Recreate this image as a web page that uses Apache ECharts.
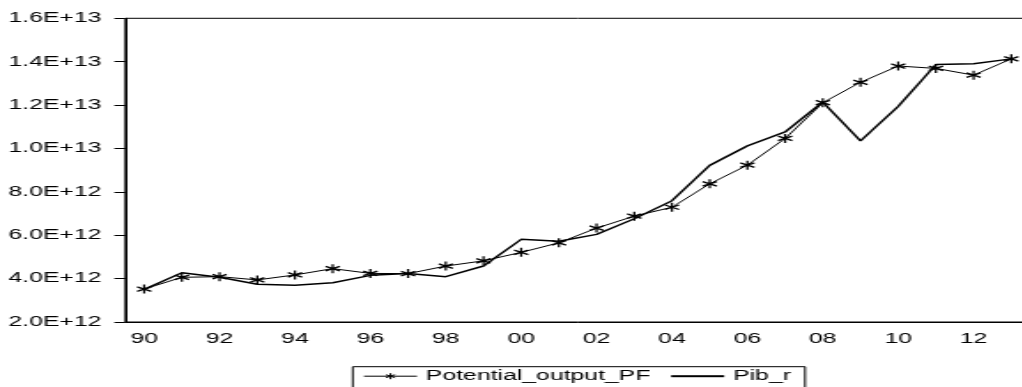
<!DOCTYPE html>
<html>
<head>
<meta charset="utf-8">
<script src="https://cdn.jsdelivr.net/npm/echarts@6/dist/echarts.min.js"></script>
<style>
  html, body { margin: 0; padding: 0; overflow: hidden; background: #fff; }
  /* the reference is a horizontally stretched EViews graph */
  #chart { width: 600px; height: 387px; transform: scaleX(1.77); transform-origin: 0 0; }
</style>
</head>
<body>
<div id="chart"></div>
<script>
// years 1990..2013, labelled as two digits
var years = ['90','91','92','93','94','95','96','97','98','99','00','01',
             '02','03','04','05','06','07','08','09','10','11','12','13'];

// Potential_output_PF (starred line)
var potentialPF = [3.52e12, 4.06e12, 4.09e12, 3.94e12, 4.17e12, 4.46e12, 4.24e12, 4.23e12,
                   4.58e12, 4.82e12, 5.21e12, 5.65e12, 6.33e12, 6.88e12, 7.29e12, 8.37e12,
                   9.23e12, 10.46e12, 12.11e12, 13.05e12, 13.80e12, 13.69e12, 13.38e12, 14.13e12];

// Pib_r (plain line)
var pibR = [3.50e12, 4.27e12, 4.06e12, 3.74e12, 3.69e12, 3.81e12, 4.15e12, 4.24e12,
            4.09e12, 4.58e12, 5.81e12, 5.72e12, 6.04e12, 6.76e12, 7.59e12, 9.22e12,
            10.12e12, 10.76e12, 12.14e12, 10.35e12, 11.94e12, 13.87e12, 13.90e12, 14.13e12];

var yMin = 2e12, yMax = 1.6e13, yStep = 2e12;

var font = 'Liberation Sans, Arial, sans-serif';
var star = 'path://M0,-4L0,4M-3.5,-2L3.5,2M-3.5,2L3.5,-2';
// legend icon: line with a small asterisk, box 30x14 like the legend item
var starLine = 'path://M0,-7M0,7M-15,0L15,0M0,-3L0,3M-2.6,-1.5L2.6,1.5M-2.6,1.5L2.6,-1.5';

var chart = echarts.init(document.getElementById('chart'));

chart.setOption({
  animation: false,
  grid: {
    left: 70.8,
    top: 18.3,
    width: 511.2,
    height: 303.7,
    show: true,
    borderColor: '#000',
    borderWidth: 1
  },
  legend: {
    left: 199.3,
    top: 366.7,
    orient: 'horizontal',
    padding: [2, 8, 5, 5.8],
    borderColor: '#000',
    borderWidth: 1,
    itemWidth: 30,
    itemHeight: 14,
    itemGap: 10.7,
    textStyle: { fontFamily: font, fontSize: 14, color: '#000' },
    data: [
      { name: 'Potential_output_PF', icon: starLine, itemStyle: { borderWidth: 1 } },
      { name: 'Pib_r', itemStyle: { opacity: 0 } }
    ]
  },
  xAxis: {
    type: 'category',
    data: years,
    boundaryGap: true,
    axisLine: { lineStyle: { color: '#000', width: 1 } },
    axisTick: { interval: 0, length: 6, lineStyle: { color: '#000' } },
    axisLabel: {
      interval: 1,
      margin: 10,
      fontFamily: font,
      fontSize: 14,
      color: '#000'
    },
    splitLine: { show: false }
  },
  yAxis: {
    type: 'value',
    min: yMin,
    max: yMax,
    interval: yStep,
    axisLine: { show: true, lineStyle: { color: '#000', width: 1 } },
    axisTick: { show: true, length: 6.2, lineStyle: { color: '#000' } },
    axisLabel: {
      margin: 13.5,
      fontFamily: font,
      fontSize: 14,
      color: '#000',
      formatter: function (v) { return v.toExponential(1).toUpperCase(); }
    },
    splitLine: { show: false }
  },
  series: [
    {
      name: 'Potential_output_PF',
      type: 'line',
      data: potentialPF,
      symbol: star,
      symbolSize: [8, 9],
      showAllSymbol: true,
      itemStyle: { color: '#000', borderColor: '#000', borderWidth: 1.3 },
      lineStyle: { color: '#000', width: 1 },
      z: 3
    },
    {
      name: 'Pib_r',
      type: 'line',
      data: pibR,
      symbol: 'none',
      itemStyle: { color: '#000' },
      lineStyle: { color: '#000', width: 1.5 },
      z: 2
    }
  ]
});
</script>
</body>
</html>
